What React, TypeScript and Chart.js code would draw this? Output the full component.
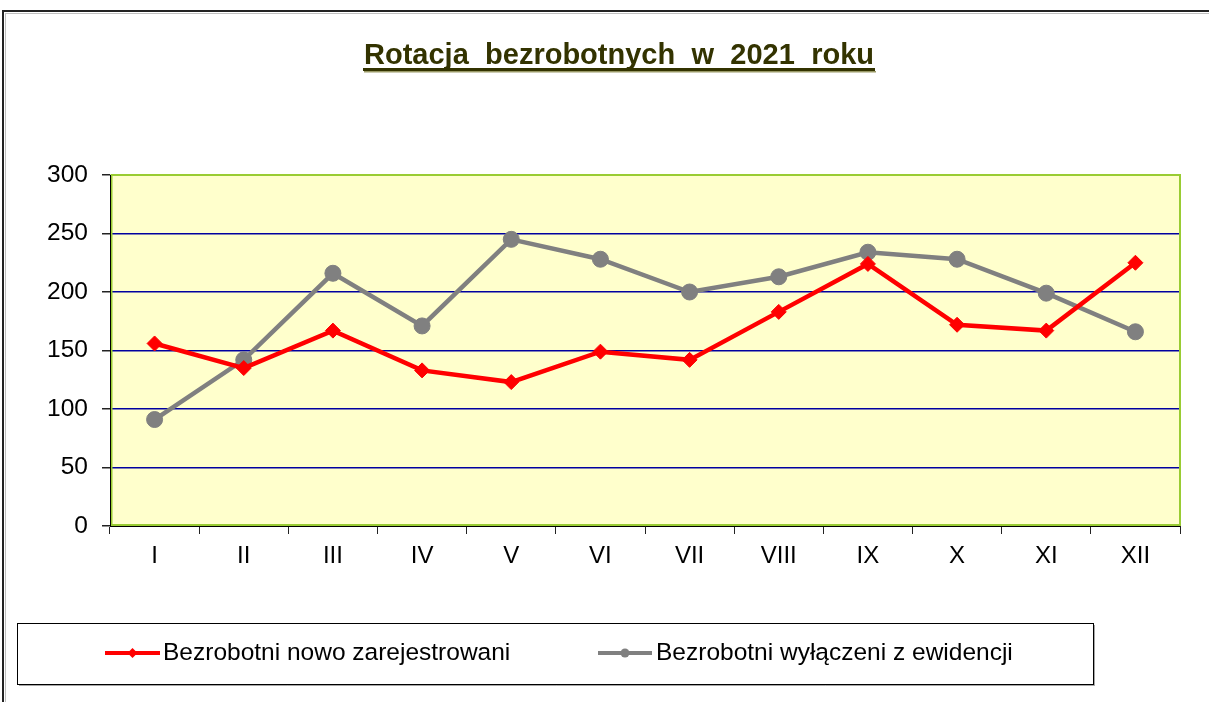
import React, { useEffect, useRef } from "react";
import { Chart, registerables } from "chart.js";

Chart.register(...registerables);

const TITLE = "Rotacja bezrobotnych w 2021 roku";
const MONTHS = ["I", "II", "III", "IV", "V", "VI", "VII", "VIII", "IX", "X", "XI", "XII"];
const NEW_REGISTERED_LABEL = "Bezrobotni nowo zarejestrowani";
const NEW_REGISTERED = [156, 135, 167, 133, 123, 149, 142, 183, 224, 172, 167, 225];
const REMOVED_LABEL = "Bezrobotni wyłączeni z ewidencji";
const REMOVED = [91, 142, 216, 171, 245, 228, 200, 213, 234, 228, 199, 166];
const Y_MIN = 0;
const Y_MAX = 300;
const Y_STEP = 50;

const FONT = "'Liberation Sans', Arial, sans-serif";

const decorPlugin = {
  id: "decor",
  beforeDraw(chart: any) {
    const { ctx, chartArea } = chart;
    ctx.save();
    ctx.fillStyle = "#ffffff";
    ctx.fillRect(0, 0, chart.width, chart.height);
    ctx.fillStyle = "#ffffcc";
    ctx.fillRect(chartArea.left, chartArea.top, chartArea.right - chartArea.left, chartArea.bottom - chartArea.top);
    // outer frame
    ctx.strokeStyle = "#222";
    ctx.lineWidth = 2;
    ctx.beginPath();
    ctx.moveTo(3, chart.height);
    ctx.lineTo(3, 11);
    ctx.lineTo(chart.width, 11);
    ctx.stroke();
    ctx.strokeStyle = "rgba(0,0,0,0.25)";
    ctx.lineWidth = 1;
    ctx.beginPath();
    ctx.moveTo(5.5, chart.height);
    ctx.lineTo(5.5, 13.5);
    ctx.lineTo(chart.width, 13.5);
    ctx.stroke();

    // title
    ctx.font = `bold 29px ${FONT}`;
    ctx.fillStyle = "#333300";
    ctx.textBaseline = "alphabetic";
    const words = TITLE.split(" ");
    const totalW = 510;
    const wordWs = words.map((w) => ctx.measureText(w).width);
    const sum = wordWs.reduce((a, b) => a + b, 0);
    const gap = (totalW - sum) / (words.length - 1);
    const startX = 364;
    let x = startX;
    words.forEach((w, i) => {
      ctx.fillText(w, x, 64);
      x += wordWs[i] + gap;
    });
    ctx.fillStyle = "#999966";
    ctx.fillRect(startX, 71, totalW + 2, 1.5);
    ctx.fillStyle = "#333300";
    ctx.fillRect(startX - 1, 68, totalW + 2, 3);
    ctx.restore();
  },
  beforeDatasetsDraw(chart: any) {
    const { ctx, chartArea } = chart;
    ctx.save();
    ctx.strokeStyle = "#99cc33";
    ctx.lineWidth = 2;
    ctx.strokeRect(chartArea.left + 1.5, chartArea.top, chartArea.right - chartArea.left - 1.5, chartArea.bottom - chartArea.top - 1);
    ctx.strokeStyle = "#000";
    ctx.lineWidth = 1;
    ctx.beginPath();
    ctx.moveTo(chartArea.left + 0.5, chartArea.top);
    ctx.lineTo(chartArea.left + 0.5, chartArea.bottom + 0.5);
    ctx.lineTo(chartArea.right, chartArea.bottom + 0.5);
    ctx.stroke();
    ctx.restore();
  },
  afterDraw(chart: any) {
    const { ctx } = chart;
    const ds = chart.data.datasets;
    ctx.save();
    // legend box
    ctx.strokeStyle = "rgba(0,0,0,0.35)";
    ctx.lineWidth = 1;
    ctx.beginPath();
    ctx.moveTo(19, 685.5);
    ctx.lineTo(1094.5, 685.5);
    ctx.lineTo(1094.5, 625);
    ctx.stroke();
    ctx.strokeStyle = "#000";
    ctx.strokeRect(17.5, 623.5, 1076, 61);

    const items = [
      { x0: 105, x1: 160, tx: 163 },
      { x0: 598, x1: 652, tx: 656 },
    ];
    const cy = 653;
    items.forEach((it, i) => {
      const d = ds[i];
      ctx.strokeStyle = d.borderColor;
      ctx.lineWidth = 4;
      ctx.beginPath();
      ctx.moveTo(it.x0, cy);
      ctx.lineTo(it.x1, cy);
      ctx.stroke();
      const mx = (it.x0 + it.x1) / 2;
      ctx.fillStyle = d.borderColor;
      ctx.beginPath();
      if (d.pointStyle === "rectRot") {
        ctx.moveTo(mx, cy - 5);
        ctx.lineTo(mx + 5, cy);
        ctx.lineTo(mx, cy + 5);
        ctx.lineTo(mx - 5, cy);
        ctx.closePath();
      } else {
        ctx.arc(mx, cy, 4.5, 0, Math.PI * 2);
      }
      ctx.fill();
      ctx.fillStyle = "#000";
      ctx.font = `24.5px ${FONT}`;
      ctx.textBaseline = "middle";
      ctx.textAlign = "left";
      ctx.fillText(d.label, it.tx, cy);
    });
    ctx.restore();
  },
};

export default function App() {
  const ref = useRef<HTMLCanvasElement | null>(null);

  useEffect(() => {
    if (!ref.current) return;
    const chart = new Chart(ref.current, {
      type: "line",
      data: {
        labels: MONTHS,
        datasets: [
          {
            label: NEW_REGISTERED_LABEL,
            data: NEW_REGISTERED,
            borderColor: "#ff0000",
            backgroundColor: "#ff0000",
            borderWidth: 4.5,
            pointStyle: "rectRot",
            pointRadius: 7.5,
            pointHoverRadius: 7.5,
            pointBorderWidth: 1,
            tension: 0,
          },
          {
            label: REMOVED_LABEL,
            data: REMOVED,
            borderColor: "#808080",
            backgroundColor: "#808080",
            borderWidth: 4.5,
            pointStyle: "circle",
            pointRadius: 8,
            pointHoverRadius: 8,
            pointBorderWidth: 1,
            tension: 0,
          },
        ],
      },
      options: {
        responsive: false,
        animation: false,
        layout: { padding: { top: 175, right: 29, bottom: 0, left: 0 } },
        plugins: {
          legend: { display: false },
          title: { display: false },
          tooltip: { enabled: false },
        },
        scales: {
          x: {
            type: "category",
            offset: true,
            afterFit: (scale: any) => {
              scale.height = 176;
            },
            grid: {
              offset: true,
              drawOnChartArea: false,
              drawTicks: true,
              tickLength: 8,
              tickColor: "#222",
              lineWidth: 1,
            },
            border: { display: true, color: "#222", width: 1 },
            ticks: {
              color: "#000",
              padding: 8,
              maxRotation: 0,
              font: { family: FONT, size: 24 },
            },
          },
          y: {
            min: Y_MIN,
            max: Y_MAX,
            afterFit: (scale: any) => {
              scale.width = 110;
            },
            grid: {
              color: (c: any) =>
                c.tick && (c.tick.value === Y_MIN || c.tick.value === Y_MAX) ? "rgba(0,0,0,0)" : "#0000a0",
              lineWidth: 1.5,
              drawTicks: true,
              tickLength: 8,
              tickColor: "#222",
            },
            border: { display: true, color: "#222", width: 1 },
            ticks: {
              stepSize: Y_STEP,
              color: "#000",
              padding: 14,
              font: { family: FONT, size: 24.5 },
            },
          },
        },
      },
      plugins: [decorPlugin],
    } as any);
    return () => chart.destroy();
  }, []);

  return (
    <div style={{ position: "absolute", left: 0, top: 0, width: 1209, height: 702 }}>
      <canvas ref={ref} width={1209} height={702} />
    </div>
  );
}
